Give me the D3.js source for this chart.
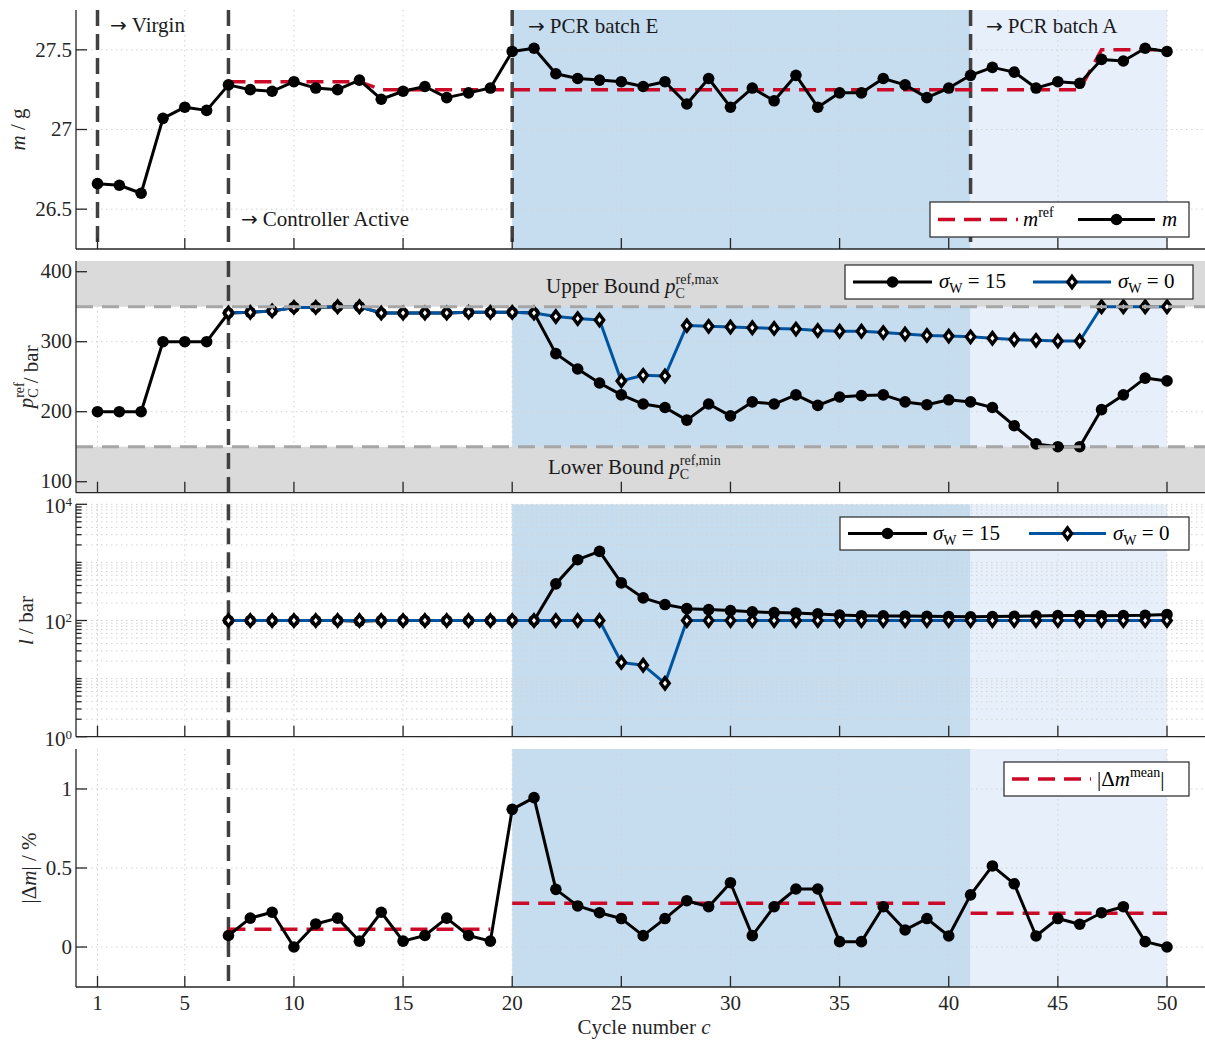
<!DOCTYPE html>
<html>
<head>
<meta charset="utf-8">
<script src="https://cdn.jsdelivr.net/npm/d3@7"></script>
<style>
  html, body { margin: 0; padding: 0; background: #fff; }
  svg { display: block; font-family: "Liberation Serif", "DejaVu Serif", serif; }
</style>
</head>
<body>
<svg id="chart" width="1205" height="1042"></svg>
<script>
// ---------------- data ----------------
const cycles = d3.range(1, 51);            // cycle numbers 1..50
const controlCycles = d3.range(7, 51);     // cycles with active controller

// measured part mass m / g, cycles 1..50
const massMeasured = [
  26.66, 26.65, 26.60, 27.07, 27.14, 27.12, 27.28, 27.25, 27.24, 27.30,
  27.26, 27.25, 27.31, 27.19, 27.24, 27.27, 27.20, 27.23, 27.26, 27.49,
  27.51, 27.35, 27.32, 27.31, 27.30, 27.27, 27.30, 27.16, 27.32, 27.14,
  27.26, 27.18, 27.34, 27.14, 27.23, 27.23, 27.32, 27.28, 27.20, 27.26,
  27.34, 27.39, 27.36, 27.26, 27.30, 27.29, 27.44, 27.43, 27.51, 27.49
];
// reference mass m_ref / g, cycles 7..50
const massReference = [
  27.30, 27.30, 27.30, 27.30, 27.30, 27.30, 27.30,
  27.25, 27.25, 27.25, 27.25, 27.25, 27.25, 27.25, 27.25, 27.25, 27.25, 27.25,
  27.25, 27.25, 27.25, 27.25, 27.25, 27.25, 27.25, 27.25, 27.25, 27.25, 27.25,
  27.25, 27.25, 27.25, 27.25, 27.25, 27.25, 27.25, 27.25, 27.25, 27.25, 27.25,
  27.50, 27.50, 27.50, 27.50
];
// reference packing pressure p_C^ref / bar, sigma_W = 15, cycles 1..50
const pressureSigma15 = [
  200, 200, 200, 300, 300, 300, 341, 342, 344, 349,
  349, 350, 350, 341, 341, 341, 341, 342, 342, 342,
  341, 283, 261, 241, 224, 211, 206, 188, 211, 194,
  214, 211, 224, 209, 221, 223, 224, 214, 210, 217,
  214, 206, 180, 154, 150, 150, 203, 224, 248, 244
];
// reference packing pressure p_C^ref / bar, sigma_W = 0, cycles 7..50
const pressureSigma0 = [
  341, 342, 344, 349, 349, 350, 350, 341, 341, 341, 341, 342, 342, 342,
  341, 336, 333, 331, 244, 252, 251, 323, 322, 321,
  320, 319, 318, 316, 315, 315, 313, 311, 309, 308,
  307, 305, 303, 302, 301, 301, 350, 350, 350, 350
];
// step size l / bar, sigma_W = 15, cycles 7..50
const stepSigma15 = [
  100, 100, 100, 100, 100, 100, 97, 100, 100, 100, 100, 100, 100, 100,
  100, 427, 1112, 1546, 444, 245, 188, 160, 154, 148,
  141, 137, 135, 130, 124, 121, 120, 119, 118, 117,
  116, 117, 118, 120, 122, 122, 121, 122, 123, 127
];
// step size l / bar, sigma_W = 0, cycles 7..50
const stepSigma0 = [
  100, 100, 100, 100, 100, 100, 100, 100, 100, 100, 100, 100, 100, 100,
  100, 100, 100, 100, 19, 17, 8.3, 100, 100, 100,
  100, 100, 100, 100, 100, 100, 100, 100, 100, 100,
  100, 100, 100, 100, 100, 100, 100, 100, 100, 100
];
// relative mass deviation |Δm| / %, cycles 7..50
const massDeviation = [
  0.073, 0.183, 0.220, 0.000, 0.146, 0.183, 0.037, 0.220, 0.037, 0.073, 0.183, 0.073, 0.037,
  0.871, 0.945, 0.365, 0.260, 0.217, 0.180, 0.072, 0.180, 0.293, 0.255, 0.407,
  0.072, 0.255, 0.367, 0.367, 0.034, 0.034, 0.255, 0.108, 0.180, 0.070,
  0.330, 0.513, 0.400, 0.070, 0.180, 0.144, 0.217, 0.255, 0.034, 0.000
];
// mean deviation per material phase
const meanStart = [7, 20, 41];
const meanEnd = [19, 40, 50];
const meanValue = [0.112, 0.277, 0.213];

// phase boundaries and annotations
const phaseMarkers = [1, 7, 20, 41];
const phaseLabels = ["Virgin", "Controller Active", "PCR batch E", "PCR batch A"];
const pressureBounds = [150, 350];
const xTickValues = [1, 5, 10, 15, 20, 25, 30, 35, 40, 45, 50];

// ---------------- styles ----------------
const C = {
  axis: "#262626",
  grid: "#d2d2d2",
  shadeE: "#c6ddf0",
  shadeA: "#e7f0fa",
  bound: "#dadada",
  boundLine: "#a6a6a6",
  red: "#cc0a27",
  blue: "#00549f",
  phase: "#404040"
};
const FS = 21, FSS = 14;

const svg = d3.select("#chart");
const plotLeft = 76, plotRight = 1205;
const x = d3.scaleLinear().domain([1, 50]).range([97.5, 1167]);

const yMass = d3.scaleLinear().domain([26.25, 27.75]).range([249, 10]);
const yPress = d3.scaleLinear().domain([84.3, 415.3]).range([492.7, 261]);
const yStep = d3.scaleLog().domain([1, 1e4]).range([736.7, 504.3]);
const yDev = d3.scaleLinear().domain([-0.253, 1.253]).range([987, 749]);

const pairs = (xs, ys) => xs.map((c, i) => [c, ys[i]]);

// ---------------- helpers ----------------
function shading(g, y) {
  const [b, t] = y.range();
  g.append("rect").attr("x", x(20)).attr("y", t).attr("width", x(41) - x(20)).attr("height", b - t).attr("fill", C.shadeE);
  g.append("rect").attr("x", x(41)).attr("y", t).attr("width", x(50) - x(41)).attr("height", b - t).attr("fill", C.shadeA);
}
function phaseLines(g, y, list) {
  const [b, t] = y.range();
  list.forEach(c => g.append("line")
    .attr("x1", x(c)).attr("x2", x(c)).attr("y1", t).attr("y2", b)
    .attr("stroke", C.phase).attr("stroke-width", 3.5).attr("stroke-dasharray", "16,8"));
}
// dotted grid; x lines hidden where a phase boundary is drawn
function grid(g, y, yVals, skipX) {
  const [b, t] = y.range();
  const gg = g.append("g").attr("stroke", C.grid).attr("stroke-width", 1).attr("stroke-dasharray", "1.5,3.5");
  xTickValues.filter(c => !(skipX || []).includes(c))
    .forEach(c => gg.append("line").attr("x1", x(c)).attr("x2", x(c)).attr("y1", t).attr("y2", b));
  yVals.forEach(v => gg.append("line").attr("x1", plotLeft).attr("x2", plotRight).attr("y1", y(v)).attr("y2", y(v)));
}
function axes(g, y, ticks, fmt, showX, minor) {
  const [b, t] = y.range();
  const ag = g.append("g").attr("stroke", C.axis).attr("stroke-width", 1.3);
  ag.append("line").attr("x1", plotLeft).attr("x2", plotLeft).attr("y1", t).attr("y2", b);
  ag.append("line").attr("x1", plotLeft).attr("x2", plotRight).attr("y1", b).attr("y2", b);
  xTickValues.forEach(c => ag.append("line").attr("x1", x(c)).attr("x2", x(c)).attr("y1", b).attr("y2", b - 11));
  ticks.forEach(v => ag.append("line").attr("x1", plotLeft).attr("x2", plotLeft + 11).attr("y1", y(v)).attr("y2", y(v)));
  (minor || []).forEach(v => ag.append("line").attr("x1", plotLeft).attr("x2", plotLeft + 5.5).attr("y1", y(v)).attr("y2", y(v)));
  ticks.forEach(v => fmt(g.append("text").attr("x", plotLeft - 4).attr("y", y(v)).attr("dy", "0.32em")
    .attr("text-anchor", "end").attr("font-size", FS).attr("fill", C.axis), v));
  if (showX) {
    xTickValues.forEach(c => g.append("text").attr("x", x(c)).attr("y", b + 23)
      .attr("text-anchor", "middle").attr("font-size", FS).attr("fill", C.axis).text(c));
  }
}
function series(g, y, data, color, marker) {
  g.append("path").datum(data)
    .attr("d", d3.line().x(d => x(d[0])).y(d => y(d[1])))
    .attr("fill", "none").attr("stroke", color).attr("stroke-width", 3).attr("stroke-linejoin", "round");
  data.forEach(d => drawMarker(g, x(d[0]), y(d[1]), marker));
}
function drawMarker(g, cx, cy, marker) {
  if (marker === "circle") {
    g.append("circle").attr("cx", cx).attr("cy", cy).attr("r", 5.8).attr("fill", "#000");
  } else {
    g.append("path").attr("transform", `translate(${cx},${cy})`)
      .attr("d", "M0,-5.6L4.2,0L0,5.6L-4.2,0Z")
      .attr("fill", "#fff").attr("stroke", "#000").attr("stroke-width", 3.4).attr("stroke-linejoin", "miter");
  }
}
function refLine(g, y, data) {
  g.append("path").datum(data)
    .attr("d", d3.line().x(d => x(d[0])).y(d => y(d[1])))
    .attr("fill", "none").attr("stroke", C.red).attr("stroke-width", 3.5).attr("stroke-dasharray", "17,9");
}
// italic base with stacked superscript and subscript
function scripted(t, base, sup, sub) {
  t.append("tspan").attr("font-style", "italic").text(base);
  const s1 = t.append("tspan").attr("font-size", FSS).attr("dy", -9).text(sup);
  const w1 = s1.node().getComputedTextLength();
  if (sub) {
    const s2 = t.append("tspan").attr("font-size", FSS).attr("dx", -w1).attr("dy", 14).text(sub);
    const w2 = s2.node().getComputedTextLength();
    t.append("tspan").attr("dx", Math.max(0, w1 - w2)).attr("dy", -5).text("");
  } else {
    t.append("tspan").attr("dy", 9).text("");
  }
  return t;
}
function sigmaLabel(t, value) {
  t.append("tspan").attr("font-style", "italic").text("\u03c3");
  t.append("tspan").attr("font-size", FSS).attr("dy", 5).text("W");
  t.append("tspan").attr("dy", -5).text(" = " + value);
}
function legendBox(g, x0, y0, x1, y1) {
  g.append("rect").attr("x", x0).attr("y", y0).attr("width", x1 - x0).attr("height", y1 - y0)
    .attr("fill", "#fff").attr("stroke", C.axis).attr("stroke-width", 1.2);
}
function yLabel(g, xPos, y, build) {
  const [b, t] = y.range();
  const tx = g.append("text").attr("transform", `translate(${xPos},${(b + t) / 2}) rotate(-90)`)
    .attr("text-anchor", "middle").attr("font-size", FS).attr("fill", C.axis);
  build(tx);
}
function arrowLabel(g, xPos, yPos, s) {
  const t = g.append("text").attr("x", xPos).attr("y", yPos).attr("font-size", FS).attr("fill", "#1a1a1a");
  t.append("tspan").attr("font-family", "DejaVu Sans").attr("font-size", 20).text("\u2192");
  t.append("tspan").attr("dx", 5).text(s);
}

// ---------------- panel 1: part mass ----------------
{
  const g = svg.append("g");
  shading(g, yMass);
  grid(g, yMass, [26.5, 27, 27.5], [1, 20]);
  phaseLines(g, yMass, phaseMarkers);
  refLine(g, yMass, pairs(controlCycles, massReference));
  series(g, yMass, pairs(cycles, massMeasured), "#000", "circle");
  axes(g, yMass, [26.5, 27, 27.5], (t, v) => t.text(v), false);
  yLabel(g, 25, yMass, t => {
    t.append("tspan").attr("font-style", "italic").text("m");
    t.append("tspan").text(" / g");
  });
  const lx = [110, 241, 528, 986], ly = [32, 226, 33, 33];
  phaseLabels.forEach((s, i) => arrowLabel(g, lx[i], ly[i], s));
  // legend
  legendBox(g, 930, 202, 1189, 237);
  g.append("line").attr("x1", 938).attr("x2", 1018).attr("y1", 219.5).attr("y2", 219.5)
    .attr("stroke", C.red).attr("stroke-width", 3.5).attr("stroke-dasharray", "17,9");
  scripted(g.append("text").attr("x", 1023).attr("y", 226).attr("font-size", FS), "m", "ref");
  g.append("line").attr("x1", 1078).attr("x2", 1155).attr("y1", 219.5).attr("y2", 219.5)
    .attr("stroke", "#000").attr("stroke-width", 3);
  drawMarker(g, 1116.5, 219.5, "circle");
  g.append("text").attr("x", 1162).attr("y", 226).attr("font-size", FS).attr("font-style", "italic").text("m");
}

// ---------------- panel 2: reference packing pressure ----------------
{
  const g = svg.append("g");
  shading(g, yPress);
  grid(g, yPress, [200, 300]);
  const [b, t] = yPress.range();
  g.append("rect").attr("x", plotLeft).attr("y", t).attr("width", plotRight - plotLeft)
    .attr("height", yPress(pressureBounds[1]) - t).attr("fill", C.bound);
  g.append("rect").attr("x", plotLeft).attr("y", yPress(pressureBounds[0])).attr("width", plotRight - plotLeft)
    .attr("height", b - yPress(pressureBounds[0])).attr("fill", C.bound);
  phaseLines(g, yPress, [7]);
  series(g, yPress, pairs(cycles, pressureSigma15), "#000", "circle");
  series(g, yPress, pairs(controlCycles, pressureSigma0), C.blue, "diamond");
  pressureBounds.forEach(v => g.append("line").attr("x1", plotLeft).attr("x2", plotRight)
    .attr("y1", yPress(v)).attr("y2", yPress(v))
    .attr("stroke", C.boundLine).attr("stroke-width", 3).attr("stroke-dasharray", "17,9"));
  axes(g, yPress, [100, 200, 300, 400], (t, v) => t.text(v), false);
  yLabel(g, 33, yPress, t => {
    scripted(t, "p", "ref", "C");
    t.append("tspan").text(" / bar");
  });
  const up = g.append("text").attr("x", 546).attr("y", 293).attr("font-size", FS).attr("fill", "#1a1a1a");
  up.append("tspan").text("Upper Bound ");
  scripted(up, "p", "ref,max", "C");
  const lo = g.append("text").attr("x", 548).attr("y", 474).attr("font-size", FS).attr("fill", "#1a1a1a");
  lo.append("tspan").text("Lower Bound ");
  scripted(lo, "p", "ref,min", "C");
  // legend
  legendBox(g, 845, 265, 1193, 299);
  g.append("line").attr("x1", 853).attr("x2", 932).attr("y1", 282).attr("y2", 282).attr("stroke", "#000").attr("stroke-width", 3);
  drawMarker(g, 892.5, 282, "circle");
  sigmaLabel(g.append("text").attr("x", 939).attr("y", 288).attr("font-size", FS), 15);
  g.append("line").attr("x1", 1033).attr("x2", 1111).attr("y1", 282).attr("y2", 282).attr("stroke", C.blue).attr("stroke-width", 3);
  drawMarker(g, 1072, 282, "diamond");
  sigmaLabel(g.append("text").attr("x", 1118).attr("y", 288).attr("font-size", FS), 0);
}

// ---------------- panel 3: step size (log scale) ----------------
{
  const g = svg.append("g");
  shading(g, yStep);
  const minorVals = [];
  [1, 10, 100, 1000].forEach(d => d3.range(2, 10).forEach(k => minorVals.push(k * d)));
  const allGrid = [1, 10, 100, 1000, 10000].concat(minorVals);
  grid(g, yStep, allGrid);
  phaseLines(g, yStep, [7]);
  series(g, yStep, pairs(controlCycles, stepSigma15), "#000", "circle");
  series(g, yStep, pairs(controlCycles, stepSigma0), C.blue, "diamond");
  axes(g, yStep, [1, 100, 10000], (t, v) => {
    t.attr("dy", "0.42em");
    t.append("tspan").text("10");
    t.append("tspan").attr("font-size", 13).attr("dy", -7).text(Math.round(Math.log10(v)));
  }, false, minorVals.concat([10, 1000]));
  yLabel(g, 33, yStep, t => {
    t.append("tspan").attr("font-style", "italic").text("l");
    t.append("tspan").text(" / bar");
  });
  legendBox(g, 840, 517, 1189, 550);
  g.append("line").attr("x1", 848).attr("x2", 927).attr("y1", 533.5).attr("y2", 533.5).attr("stroke", "#000").attr("stroke-width", 3);
  drawMarker(g, 887.5, 533.5, "circle");
  sigmaLabel(g.append("text").attr("x", 933).attr("y", 540).attr("font-size", FS), 15);
  g.append("line").attr("x1", 1029).attr("x2", 1106).attr("y1", 533.5).attr("y2", 533.5).attr("stroke", C.blue).attr("stroke-width", 3);
  drawMarker(g, 1067.5, 533.5, "diamond");
  sigmaLabel(g.append("text").attr("x", 1113).attr("y", 540).attr("font-size", FS), 0);
}

// ---------------- panel 4: mass deviation ----------------
{
  const g = svg.append("g");
  shading(g, yDev);
  grid(g, yDev, [0, 0.5, 1]);
  phaseLines(g, yDev, [7]);
  meanValue.forEach((v, i) => refLine(g, yDev, [[meanStart[i], v], [meanEnd[i], v]]));
  series(g, yDev, pairs(controlCycles, massDeviation), "#000", "circle");
  axes(g, yDev, [0, 0.5, 1], (t, v) => t.text(v), true);
  yLabel(g, 36, yDev, t => {
    t.append("tspan").text("|\u0394");
    t.append("tspan").attr("font-style", "italic").text("m");
    t.append("tspan").text("| / %");
  });
  legendBox(g, 1004, 762, 1189, 796);
  g.append("line").attr("x1", 1012).attr("x2", 1091).attr("y1", 779).attr("y2", 779)
    .attr("stroke", C.red).attr("stroke-width", 3.5).attr("stroke-dasharray", "17,9");
  const lt = g.append("text").attr("x", 1097).attr("y", 786).attr("font-size", FS);
  lt.append("tspan").text("|\u0394");
  lt.append("tspan").attr("font-style", "italic").text("m");
  lt.append("tspan").attr("font-size", FSS).attr("dy", -9).text("mean");
  lt.append("tspan").attr("dy", 9).text("|");
  const xl = g.append("text").attr("x", 644).attr("y", 1034).attr("text-anchor", "middle").attr("font-size", FS).attr("fill", C.axis);
  xl.append("tspan").text("Cycle number ");
  xl.append("tspan").attr("font-style", "italic").text("c");
}
</script>
</body>
</html>
